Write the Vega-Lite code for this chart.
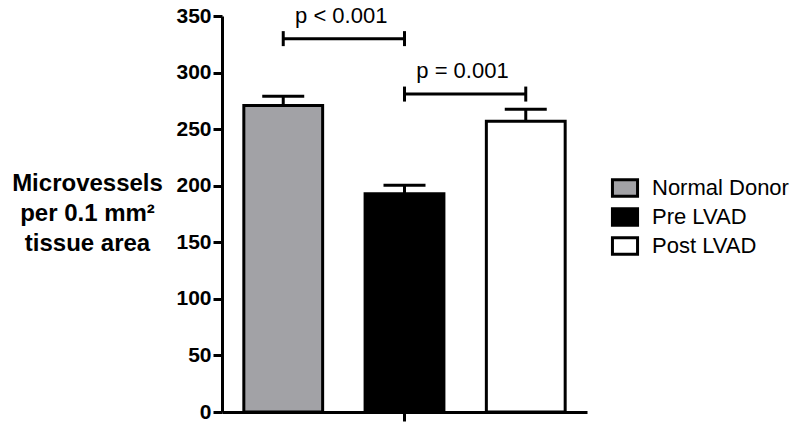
{
  "$schema": "https://vega.github.io/schema/vega-lite/v6.json",
  "autosize": "none",
  "width": 365,
  "height": 396,
  "padding": {"left": 222, "top": 16, "right": 213, "bottom": 13},
  "background": "white",
  "config": {
    "view": {"stroke": null},
    "font": "Liberation Sans"
  },
  "datasets": {
    "bars": [
      {"group": "Normal Donor", "mean": 271, "upper": 279},
      {"group": "Pre LVAD", "mean": 193, "upper": 200.5},
      {"group": "Post LVAD", "mean": 257, "upper": 267.5}
    ],
    "sig": [
      {"from": "Normal Donor", "to": "Pre LVAD", "y": 330, "label": "p < 0.001"},
      {"from": "Pre LVAD", "to": "Post LVAD", "y": 281, "label": "p = 0.001"}
    ]
  },
  "encoding": {},
  "layer": [
    {
      "data": {"name": "bars"},
      "mark": {"type": "bar", "stroke": "black", "strokeWidth": 3},
      "encoding": {
        "x": {
          "field": "group", "type": "nominal",
          "scale": {"domain": ["Normal Donor", "Pre LVAD", "Post LVAD"], "paddingInner": 0.35, "paddingOuter": 0.18},
          "axis": {"values": ["Pre LVAD"], "labels": false, "title": null, "domainColor": "black", "domainWidth": 3, "tickColor": "black", "tickWidth": 3, "tickSize": 9}
        },
        "y": {
          "field": "mean", "type": "quantitative",
          "scale": {"domain": [0, 350], "nice": false},
          "axis": {
            "values": [0, 50, 100, 150, 200, 250, 300, 350],
            "grid": false,
            "domainColor": "black", "domainWidth": 3,
            "tickColor": "black", "tickWidth": 3, "tickSize": 9,
            "labelFont": "Liberation Sans", "labelFontWeight": "bold", "labelFontSize": 21, "labelColor": "black", "labelPadding": 2,
            "title": ["Microvessels", "per 0.1 mm²", "tissue area"],
            "titleFont": "Liberation Sans", "titleFontWeight": "bold", "titleFontSize": 24, "titleColor": "black",
            "titleAngle": 0, "titleAlign": "center", "titleBaseline": "alphabetic",
            "titleX": -135, "titleY": 174, "titleLineHeight": 30
          }
        },
        "fill": {
          "field": "group", "type": "nominal",
          "scale": {"domain": ["Normal Donor", "Pre LVAD", "Post LVAD"], "range": ["#a2a2a6", "#000000", "#ffffff"]},
          "legend": {
            "title": null, "orient": "none", "legendX": 392, "legendY": 161,
            "padding": 0,
            "symbolType": "M-1.5,-1H1.5V1H-1.5Z",
            "symbolSize": 280,
            "symbolStrokeColor": "black", "symbolStrokeWidth": 3, "symbolOpacity": 1,
            "labelFont": "Liberation Sans", "labelFontSize": 22, "labelColor": "black",
            "labelOffset": 16, "rowPadding": -1
          }
        }
      }
    },
    {
      "data": {"name": "bars"},
      "mark": {"type": "rule", "stroke": "black", "strokeWidth": 3},
      "encoding": {
        "x": {"field": "group", "type": "nominal"},
        "y": {"field": "mean", "type": "quantitative"},
        "y2": {"field": "upper"}
      }
    },
    {
      "data": {"name": "bars"},
      "mark": {"type": "tick", "color": "black", "thickness": 3, "size": 42, "opacity": 1},
      "encoding": {
        "x": {"field": "group", "type": "nominal"},
        "y": {"field": "upper", "type": "quantitative"}
      }
    },
    {
      "data": {"name": "sig"},
      "mark": {"type": "rule", "stroke": "black", "strokeWidth": 3},
      "encoding": {
        "x": {"field": "from", "type": "nominal"},
        "x2": {"field": "to"},
        "y": {"field": "y", "type": "quantitative"}
      }
    },
    {
      "data": {"name": "sig"},
      "mark": {"type": "point", "shape": "M0,-1L0,1", "size": 225, "filled": false, "stroke": "black", "strokeWidth": 3, "opacity": 1},
      "encoding": {
        "x": {"field": "from", "type": "nominal"},
        "y": {"field": "y", "type": "quantitative"}
      }
    },
    {
      "data": {"name": "sig"},
      "mark": {"type": "point", "shape": "M0,-1L0,1", "size": 225, "filled": false, "stroke": "black", "strokeWidth": 3, "opacity": 1},
      "encoding": {
        "x": {"field": "to", "type": "nominal"},
        "y": {"field": "y", "type": "quantitative"}
      }
    },
    {
      "data": {"name": "sig"},
      "mark": {"type": "text", "font": "Liberation Sans", "fontSize": 22, "color": "black", "align": "center", "baseline": "alphabetic", "dx": 58, "dy": -16},
      "encoding": {
        "x": {"field": "from", "type": "nominal"},
        "y": {"field": "y", "type": "quantitative"},
        "text": {"field": "label"}
      }
    }
  ]
}
